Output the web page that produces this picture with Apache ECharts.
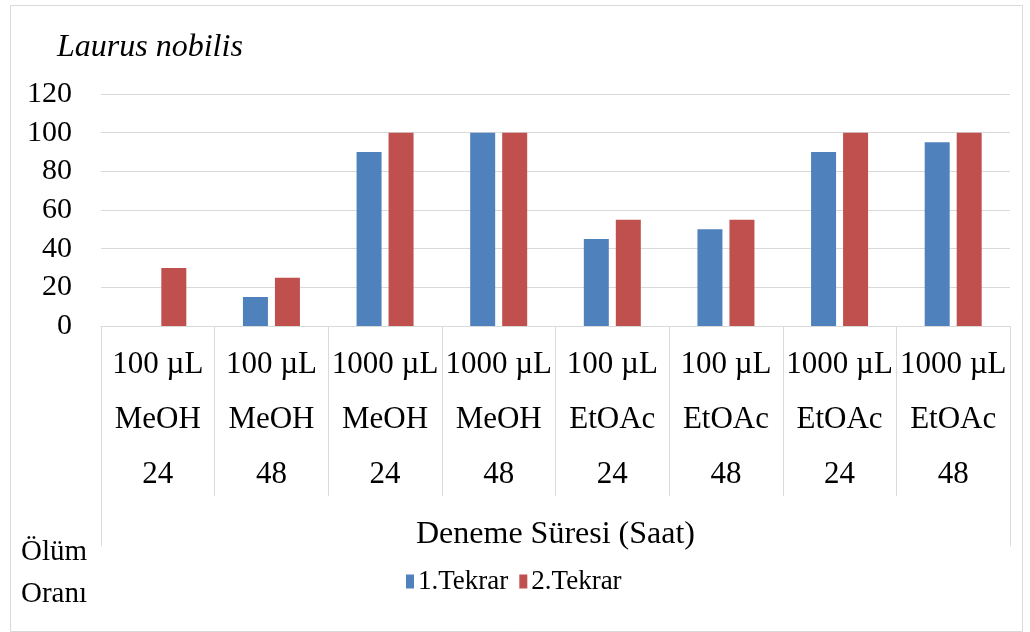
<!DOCTYPE html>
<html>
<head>
<meta charset="utf-8">
<script src="https://cdn.jsdelivr.net/npm/echarts@6/dist/echarts.min.js"></script>
<style>
  html, body { margin: 0; padding: 0; background: #fff; }
  #chart { width: 1030px; height: 632px; }
</style>
</head>
<body>
<div id="chart"></div>
<script>
var categories = [
    ['100 µL', 'MeOH', '24'],
    ['100 µL', 'MeOH', '48'],
    ['1000 µL', 'MeOH', '24'],
    ['1000 µL', 'MeOH', '48'],
    ['100 µL', 'EtOAc', '24'],
    ['100 µL', 'EtOAc', '48'],
    ['1000 µL', 'EtOAc', '24'],
    ['1000 µL', 'EtOAc', '48']
];
var tekrar1 = [0, 15, 90, 100, 45, 50, 90, 95];
var tekrar2 = [30, 25, 100, 100, 55, 55, 100, 100];
var yTicks = { min: 0, max: 120, interval: 20 };

var font = 'Liberation Serif';
var gridColor = '#d9d9d9';

var chart = echarts.init(document.getElementById('chart'));
var option = {
    backgroundColor: '#fff',
    title: {
        text: 'Laurus nobilis',
        left: 57,
        top: 32,
        padding: 0,
        textStyle: { fontFamily: font, fontStyle: 'italic', fontWeight: 'normal', fontSize: 32, color: '#000' }
    },
    legend: {
        left: 406,
        top: 568,
        padding: 0,
        itemWidth: 8,
        itemHeight: 14,
        itemGap: 11,
        icon: 'rect',
        textStyle: { fontFamily: font, fontSize: 27, color: '#000', padding: [0, 0, 0, -1] },
        data: ['1.Tekrar', '2.Tekrar']
    },
    grid: { left: 101, right: 20, top: 94, bottom: 306, containLabel: false },
    xAxis: [{
        type: 'category',
        data: categories.map(function (c) { return c.join('\n'); }),
        name: 'Deneme Süresi (Saat)',
        nameLocation: 'middle',
        nameGap: 193,
        nameTextStyle: { fontFamily: font, fontSize: 32, color: '#000' },
        axisLine: { lineStyle: { color: gridColor, width: 1 } },
        axisTick: { show: true, interval: 0, length: 170, lineStyle: { color: gridColor } },
        axisLabel: {
            interval: 0,
            margin: 11,
            fontFamily: font,
            fontSize: 31,
            color: '#000',
            lineHeight: 55
        }
    }, {
        type: 'category',
        data: [''],
        position: 'bottom',
        axisLine: { show: false },
        axisTick: { show: true, length: 220, lineStyle: { color: gridColor } },
        axisLabel: { show: false }
    }],
    yAxis: {
        type: 'value',
        min: yTicks.min,
        max: yTicks.max,
        interval: yTicks.interval,
        axisLine: { show: false },
        axisTick: { show: false },
        splitLine: { lineStyle: { color: gridColor, width: 1 } },
        axisLabel: { fontFamily: font, fontSize: 30, color: '#000', margin: 29 }
    },
    graphic: [{
        type: 'text',
        left: 21,
        top: 531,
        style: {
            text: 'Ölüm\nOranı',
            fontFamily: font,
            fontSize: 29,
            lineHeight: 42,
            fill: '#000'
        }
    }, {
        type: 'rect',
        left: 8,
        top: 3,
        shape: { width: 1012, height: 626 },
        style: { fill: 'none', stroke: gridColor, lineWidth: 1 }
    }],
    series: [{
        name: '1.Tekrar',
        type: 'bar',
        data: tekrar1,
        barWidth: 25,
        barGap: '28%',
        itemStyle: { color: '#4f81bd' }
    }, {
        name: '2.Tekrar',
        type: 'bar',
        data: tekrar2,
        barWidth: 25,
        barGap: '28%',
        itemStyle: { color: '#c0504d' }
    }]
};
chart.setOption(option);
</script>
</body>
</html>
